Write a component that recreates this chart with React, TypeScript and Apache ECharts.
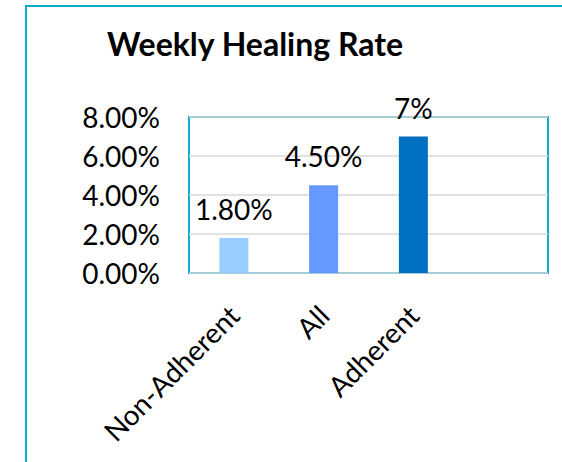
import React, { useEffect, useRef } from "react";
import * as echarts from "echarts";

const categories = ["Non-Adherent", "All", "Adherent", ""];
const values = [1.8, 4.5, 7, null];
const valueLabels = ["1.80%", "4.50%", "7%", ""];
const barColors = ["#99CCFF", "#6699FF", "#0070C0", "#0070C0"];
const titleText = "Weekly Healing Rate";

const FONT = "Lato";

export default function App() {
  const ref = useRef<HTMLDivElement>(null);
  useEffect(() => {
    const chart = echarts.init(ref.current!, null, { renderer: "svg" });
    chart.setOption({
      animation: false,
      backgroundColor: "#ffffff",
      title: {
        text: titleText,
        left: 250,
        textAlign: "center",
        top: 22,
        textStyle: { fontFamily: FONT, fontSize: 32, fontWeight: "bold", color: "#000" },
      },
      graphic: [
        {
          type: "rect",
          shape: { x: 26, y: 6, width: 700, height: 700 },
          style: { fill: "none", stroke: "#12A9CF", lineWidth: 2 },
          silent: true,
        },
      ],
      grid: {
        left: 189,
        top: 117,
        right: 14,
        bottom: 189,
        show: true,
        borderColor: "#12A9CF",
        borderWidth: 2,
        backgroundColor: "transparent",
      },
      xAxis: {
        type: "category",
        data: categories,
        axisLine: { show: false },
        axisTick: { show: false },
        axisLabel: {
          rotate: 45,
          margin: 37,
          interval: 0,
          fontFamily: FONT,
          fontSize: 28,
          color: "#000",
        },
      },
      yAxis: {
        type: "value",
        min: 0,
        max: 8,
        interval: 2,
        axisLine: { show: false },
        axisTick: { show: false },
        splitLine: { lineStyle: { color: "#D9D9D9", width: 1.5 } },
        axisLabel: {
          margin: 29,
          fontFamily: FONT,
          fontSize: 28,
          color: "#000",
          formatter: (v: number) => v.toFixed(2) + "%",
        },
      },
      series: [
        {
          type: "bar",
          barWidth: 29,
          data: values.map((v, i) => ({ value: v, itemStyle: { color: barColors[i] } })),
          label: {
            show: true,
            position: "top",
            distance: 15,
            fontFamily: FONT,
            fontSize: 28,
            color: "#000",
            formatter: (p: any) => valueLabels[p.dataIndex],
          },
          z: 3,
        },
      ],
    });
    return () => chart.dispose();
  }, []);
  return (
    <div
      ref={ref}
      style={{ position: "absolute", left: 0, top: 0, width: 562, height: 462 }}
    />
  );
}
